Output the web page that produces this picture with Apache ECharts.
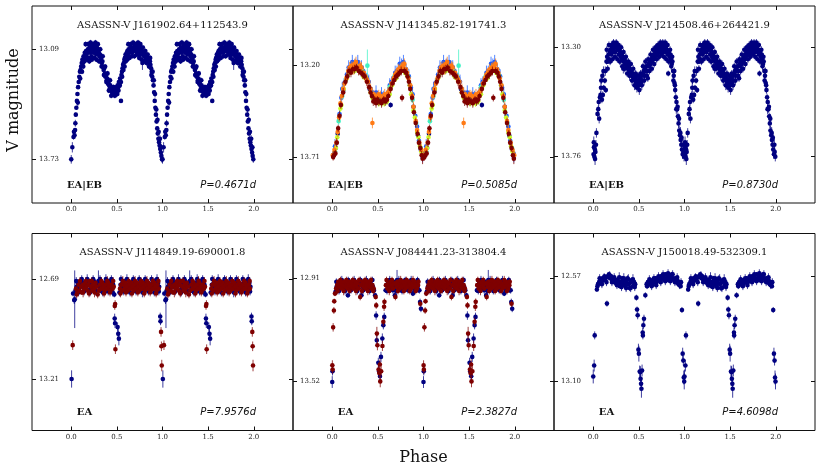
<!DOCTYPE html>
<html><head><meta charset="utf-8">
<script src="https://cdn.jsdelivr.net/npm/echarts@6/dist/echarts.min.js"></script>
<style>html,body{margin:0;padding:0;background:#fff}#c{width:822px;height:472px}</style>
</head><body><div id="c"></div>
<script>
// ---------- labels ----------
const starNames = ['ASASSN-V J161902.64+112543.9','ASASSN-V J141345.82-191741.3','ASASSN-V J214508.46+264421.9',
                   'ASASSN-V J114849.19-690001.8','ASASSN-V J084441.23-313804.4','ASASSN-V J150018.49-532309.1'];
const varTypes = ['EA|EB','EA|EB','EA|EB','EA','EA','EA'];
const periods = ['P=0.4671d','P=0.5085d','P=0.8730d','P=7.9576d','P=2.3827d','P=4.6098d'];
const yTickValues = [[13.09,13.73],[13.20,13.71],[13.30,13.76],[12.69,13.21],[12.91,13.52],[12.57,13.10]];
const yRanges = [[12.838,13.984],[12.867,13.967],[13.126,13.955],[12.453,13.478],[12.644,13.811],[12.355,13.347]];
const xTickValues = [0,0.5,1,1.5,2];
const xRange = [-0.43,2.43];

// ---------- data: [phase, magnitude, error] ----------
const p1_navy = [
[0.000,13.73,0.025],[0.025,13.60,0.015],[0.030,13.57,0.015],[0.036,13.59,0.012],[0.042,13.56,0.012],[0.050,13.47,0.012],[0.056,13.43,0.012],[0.062,13.39,0.01],[0.068,13.35,0.01],[0.075,13.31,0.01],[0.082,13.28,0.01],[0.088,13.25,0.01],[0.095,13.22,0.01],[0.102,13.21,0.01],[0.108,13.19,0.01],[0.115,13.17,0.01],[0.122,13.15,0.012],[0.128,13.17,0.012],[0.135,13.13,0.01],[0.142,13.14,0.01],[0.148,13.11,0.01],[0.155,13.13,0.01],[0.162,13.10,0.01],[0.168,13.12,0.01],[0.175,13.11,0.012],[0.182,13.09,0.01],[0.188,13.14,0.01],[0.195,13.10,0.01],[0.202,13.08,0.01],[0.208,13.11,0.01],[0.215,13.09,0.012],[0.222,13.13,0.01],[0.228,13.07,0.01],[0.235,13.10,0.01],[0.242,13.08,0.01],[0.248,13.11,0.01],[0.255,13.09,0.01],[0.262,13.07,0.01],[0.268,13.10,0.012],[0.275,13.12,0.01],[0.282,13.08,0.01],[0.288,13.10,0.01],[0.295,13.09,0.01],[0.302,13.11,0.01],[0.308,13.13,0.01],[0.315,13.12,0.01],[0.322,13.15,0.01],[0.328,13.14,0.01],[0.335,13.17,0.01],[0.342,13.16,0.012],[0.348,13.19,0.01],[0.355,13.21,0.01],[0.362,13.20,0.01],[0.368,13.23,0.01],[0.375,13.25,0.01],[0.382,13.24,0.01],[0.388,13.27,0.012],[0.395,13.26,0.01],[0.402,13.29,0.01],[0.408,13.28,0.012],[0.415,13.30,0.01],[0.422,13.32,0.01],[0.428,13.30,0.01],[0.435,13.33,0.012],[0.442,13.31,0.01],[0.448,13.34,0.01],[0.455,13.32,0.01],[0.462,13.35,0.012],[0.468,13.33,0.01],[0.475,13.34,0.01],[0.482,13.32,0.01],[0.488,13.34,0.012],[0.495,13.31,0.01],[0.502,13.33,0.01],[0.508,13.30,0.01],[0.515,13.31,0.012],[0.522,13.28,0.01],[0.528,13.29,0.01],[0.535,13.26,0.01],[0.545,13.39,0.01],[0.550,13.24,0.01],[0.556,13.22,0.01],[0.562,13.20,0.01],[0.568,13.18,0.01],[0.575,13.17,0.01],[0.582,13.15,0.01],[0.588,13.14,0.01],[0.595,13.12,0.01],[0.602,13.13,0.01],[0.608,13.11,0.01],[0.615,13.10,0.01],[0.622,13.12,0.01],[0.628,13.09,0.01],[0.635,13.11,0.01],[0.642,13.10,0.01],[0.648,13.08,0.01],[0.655,13.10,0.01],[0.662,13.09,0.01],[0.668,13.11,0.01],[0.675,13.08,0.01],[0.682,13.10,0.01],[0.688,13.09,0.01],[0.695,13.07,0.01],[0.702,13.10,0.01],[0.708,13.08,0.01],[0.715,13.09,0.01],[0.722,13.07,0.012],[0.728,13.10,0.01],[0.735,13.12,0.01],[0.742,13.08,0.01],[0.748,13.07,0.01],[0.755,13.11,0.01],[0.762,13.09,0.01],[0.768,13.12,0.01],[0.775,13.10,0.01],[0.780,13.17,0.04],[0.788,13.12,0.01],[0.795,13.11,0.01],[0.802,13.13,0.01],[0.808,13.12,0.01],[0.815,13.14,0.01],[0.822,13.13,0.01],[0.828,13.15,0.01],[0.835,13.14,0.01],[0.842,13.16,0.01],[0.848,13.15,0.01],[0.855,13.17,0.01],[0.862,13.16,0.01],[0.868,13.18,0.01],[0.875,13.20,0.01],[0.882,13.22,0.01],[0.888,13.25,0.01],[0.895,13.27,0.01],[0.902,13.30,0.012],[0.908,13.34,0.012],[0.915,13.39,0.012],[0.922,13.43,0.012],[0.928,13.47,0.012],[0.935,13.51,0.012],[0.942,13.55,0.012],[0.948,13.58,0.015],[0.955,13.61,0.015],[0.962,13.63,0.015],[0.968,13.65,0.015],[0.975,13.67,0.015],[0.982,13.69,0.015],[0.988,13.71,0.015],[0.995,13.73,0.02]
];
const p1_navy_b = [
[0.012,13.66,0.03],[0.045,13.52,0.02],[0.072,13.40,0.02],[0.098,13.26,0.015],[0.118,13.22,0.015],[0.132,13.19,0.015],[0.145,13.16,0.015],[0.158,13.06,0.015],[0.172,13.15,0.015],[0.185,13.06,0.015],[0.198,13.16,0.015],[0.212,13.05,0.015],[0.225,13.15,0.015],[0.238,13.06,0.015],[0.252,13.14,0.015],[0.265,13.05,0.015],[0.278,13.15,0.015],[0.292,13.06,0.015],[0.305,13.16,0.015],[0.318,13.09,0.015],[0.332,13.19,0.015],[0.345,13.13,0.015],[0.358,13.24,0.015],[0.372,13.19,0.015],[0.385,13.28,0.015],[0.398,13.23,0.015],[0.412,13.33,0.015],[0.425,13.27,0.015],[0.438,13.36,0.015],[0.452,13.35,0.015],[0.465,13.31,0.015],[0.478,13.36,0.015],[0.492,13.35,0.015],[0.505,13.35,0.015],[0.518,13.33,0.015],[0.532,13.30,0.015],[0.545,13.28,0.015],[0.558,13.25,0.015],[0.572,13.21,0.015],[0.585,13.19,0.015],[0.598,13.16,0.015],[0.612,13.15,0.015],[0.625,13.06,0.015],[0.638,13.14,0.015],[0.652,13.06,0.015],[0.665,13.13,0.015],[0.678,13.05,0.015],[0.692,13.13,0.015],[0.705,13.06,0.015],[0.718,13.12,0.015],[0.732,13.05,0.015],[0.745,13.14,0.015],[0.758,13.06,0.015],[0.772,13.15,0.015],[0.785,13.08,0.015],[0.798,13.16,0.015],[0.812,13.10,0.015],[0.825,13.17,0.015],[0.838,13.12,0.015],[0.852,13.19,0.015],[0.865,13.14,0.015],[0.878,13.24,0.015],[0.892,13.22,0.015],[0.905,13.27,0.015],[0.918,13.35,0.02],[0.932,13.44,0.02],[0.945,13.50,0.02],[0.958,13.57,0.02],[0.972,13.61,0.02],[0.985,13.66,0.02]
];

const p2_navy = [[0.01,13.70,0.02],[0.06,13.58,0.02],[0.12,13.34,0.02],[0.17,13.25,0.02],[0.23,13.22,0.02],[0.29,13.21,0.02],[0.35,13.25,0.02],[0.41,13.33,0.02],[0.47,13.38,0.02],[0.53,13.39,0.02],[0.585,13.40,0.02],[0.64,13.42,0.015],[0.69,13.27,0.02],[0.73,13.23,0.02],[0.79,13.22,0.02],[0.85,13.31,0.02],[0.89,13.43,0.02],[0.94,13.59,0.02],[0.985,13.69,0.02]];
const p2_blue = [[0.02,13.69,0.03],[0.04,13.66,0.03],[0.08,13.47,0.04],[0.10,13.38,0.03],[0.13,13.30,0.03],[0.16,13.25,0.03],[0.20,13.21,0.03],[0.25,13.19,0.03],[0.30,13.20,0.03],[0.34,13.23,0.03],[0.38,13.27,0.03],[0.44,13.35,0.03],[0.50,13.37,0.03],[0.56,13.37,0.03],[0.61,13.35,0.03],[0.65,13.29,0.03],[0.71,13.23,0.03],[0.76,13.19,0.03],[0.81,13.22,0.03],[0.86,13.32,0.03],[0.91,13.48,0.03],[0.95,13.62,0.03],[0.99,13.71,0.03],
 [0.03,13.65,0.04],[0.11,13.33,0.04],[0.18,13.21,0.04],[0.22,13.18,0.04],[0.28,13.18,0.04],[0.32,13.21,0.04],[0.40,13.29,0.04],[0.48,13.35,0.04],[0.54,13.36,0.04],[0.63,13.31,0.04],[0.69,13.24,0.04],[0.74,13.19,0.04],[0.78,13.18,0.04],[0.84,13.26,0.04],[0.88,13.36,0.04],[0.93,13.54,0.04],[0.97,13.67,0.04]];
const p2_cyan = [[0.03,13.68,0.02],[0.07,13.51,0.02],[0.11,13.37,0.02],[0.15,13.28,0.02],[0.21,13.22,0.02],[0.27,13.21,0.02],[0.33,13.23,0.02],[0.385,13.20,0.09],[0.46,13.37,0.02],[0.52,13.38,0.02],[0.58,13.38,0.02],[0.63,13.32,0.02],[0.68,13.26,0.02],[0.75,13.21,0.02],[0.83,13.26,0.02],[0.88,13.39,0.02],[0.92,13.52,0.02],[0.97,13.66,0.02]];
const p2_lime = [[0.015,13.70,0.02],[0.055,13.60,0.02],[0.09,13.44,0.02],[0.125,13.33,0.02],[0.19,13.24,0.02],[0.26,13.22,0.02],[0.31,13.23,0.02],[0.37,13.27,0.02],[0.42,13.35,0.02],[0.48,13.40,0.02],[0.545,13.41,0.02],[0.60,13.40,0.02],[0.655,13.31,0.02],[0.72,13.25,0.02],[0.78,13.23,0.02],[0.82,13.25,0.02],[0.865,13.36,0.02],[0.905,13.49,0.02],[0.945,13.60,0.02],[0.975,13.68,0.02],
 [0.04,13.66,0.02],[0.10,13.42,0.02],[0.16,13.27,0.02],[0.24,13.23,0.02],[0.34,13.26,0.02],[0.44,13.38,0.02],[0.51,13.41,0.02],[0.57,13.41,0.02],[0.63,13.36,0.02],[0.70,13.27,0.02],[0.80,13.24,0.02],[0.85,13.31,0.02],[0.89,13.45,0.02],[0.93,13.57,0.02],[0.96,13.65,0.02]];
const p2_orange = [[0.005,13.70,0.025],[0.045,13.63,0.025],[0.075,13.49,0.025],[0.105,13.37,0.025],[0.135,13.30,0.025],[0.175,13.23,0.025],[0.215,13.20,0.025],[0.245,13.19,0.025],[0.275,13.21,0.025],[0.305,13.20,0.025],[0.345,13.24,0.025],[0.395,13.29,0.025],[0.44,13.52,0.03],[0.455,13.36,0.025],[0.49,13.37,0.025],[0.51,13.36,0.025],[0.555,13.38,0.025],[0.595,13.37,0.025],[0.625,13.34,0.025],[0.675,13.27,0.025],[0.705,13.24,0.025],[0.745,13.21,0.025],[0.775,13.20,0.025],[0.805,13.22,0.025],[0.835,13.27,0.025],[0.875,13.37,0.025],[0.915,13.51,0.025],[0.955,13.63,0.025],[0.995,13.70,0.025],
 [0.025,13.67,0.03],[0.06,13.57,0.03],[0.09,13.41,0.03],[0.12,13.33,0.03],[0.155,13.27,0.03],[0.19,13.21,0.03],[0.23,13.22,0.03],[0.26,13.18,0.03],[0.29,13.22,0.03],[0.32,13.21,0.03],[0.36,13.26,0.03],[0.38,13.28,0.03],[0.42,13.33,0.03],[0.47,13.38,0.03],[0.53,13.37,0.03],[0.575,13.36,0.03],[0.61,13.35,0.03],[0.65,13.30,0.03],[0.69,13.25,0.03],[0.725,13.22,0.03],[0.76,13.21,0.03],[0.79,13.19,0.03],[0.82,13.24,0.03],[0.855,13.31,0.03],[0.89,13.43,0.03],[0.93,13.56,0.03],[0.975,13.67,0.03]];
const p2_red = [[0.01,13.71,0.02],[0.035,13.69,0.02],[0.065,13.55,0.02],[0.095,13.42,0.02],[0.145,13.29,0.02],[0.185,13.23,0.02],[0.225,13.22,0.02],[0.265,13.21,0.02],[0.315,13.24,0.02],[0.355,13.26,0.02],[0.405,13.32,0.02],[0.435,13.37,0.02],[0.465,13.39,0.02],[0.495,13.39,0.02],[0.525,13.40,0.02],[0.565,13.39,0.02],[0.615,13.37,0.02],[0.66,13.30,0.02],[0.70,13.26,0.02],[0.74,13.24,0.02],[0.765,13.38,0.02],[0.79,13.23,0.02],[0.825,13.26,0.02],[0.855,13.33,0.02],[0.895,13.46,0.02],[0.935,13.58,0.02],[0.965,13.66,0.02],[0.99,13.72,0.03],
 [0.02,13.70,0.025],[0.05,13.63,0.025],[0.08,13.48,0.025],[0.12,13.35,0.025],[0.165,13.26,0.025],[0.205,13.24,0.025],[0.245,13.22,0.025],[0.29,13.23,0.025],[0.335,13.25,0.025],[0.38,13.29,0.025],[0.42,13.35,0.025],[0.45,13.40,0.025],[0.48,13.41,0.025],[0.51,13.40,0.025],[0.54,13.41,0.025],[0.58,13.40,0.025],[0.60,13.39,0.025],[0.64,13.33,0.025],[0.68,13.28,0.025],[0.72,13.25,0.025],[0.755,13.23,0.025],[0.81,13.24,0.025],[0.84,13.29,0.025],[0.875,13.38,0.025],[0.915,13.52,0.025],[0.95,13.63,0.025],[0.98,13.70,0.025]];

const p3_navy = [
[0.003,13.75,0.02],[0.008,13.72,0.02],[0.012,13.76,0.02],[0.018,13.73,0.02],[0.024,13.74,0.02],[0.030,13.71,0.02],[0.047,13.58,0.015],[0.055,13.56,0.015],[0.065,13.60,0.02],[0.073,13.51,0.015],[0.080,13.50,0.015],[0.088,13.44,0.015],[0.095,13.52,0.015],[0.105,13.50,0.015],[0.115,13.47,0.012],[0.127,13.44,0.012],[0.138,13.48,0.012],[0.145,13.36,0.012],[0.152,13.34,0.01],[0.160,13.36,0.01],[0.168,13.33,0.01],[0.175,13.35,0.01],[0.182,13.32,0.01],[0.190,13.31,0.01],[0.198,13.33,0.01],[0.205,13.30,0.01],[0.212,13.32,0.01],[0.220,13.31,0.01],[0.228,13.29,0.01],[0.235,13.30,0.01],[0.242,13.32,0.01],[0.250,13.30,0.01],[0.258,13.29,0.01],[0.265,13.31,0.01],[0.272,13.30,0.01],[0.280,13.33,0.01],[0.288,13.31,0.01],[0.295,13.32,0.01],[0.302,13.34,0.01],[0.310,13.33,0.01],[0.318,13.35,0.01],[0.325,13.34,0.015],[0.330,13.39,0.02],[0.335,13.36,0.01],[0.342,13.35,0.01],[0.350,13.37,0.01],[0.358,13.36,0.01],[0.365,13.38,0.01],[0.372,13.37,0.01],[0.380,13.39,0.01],[0.388,13.38,0.01],[0.395,13.40,0.01],[0.402,13.39,0.012],[0.410,13.41,0.01],[0.418,13.40,0.012],[0.425,13.42,0.012],[0.432,13.41,0.012],[0.440,13.43,0.012],[0.448,13.42,0.012],[0.455,13.44,0.012],[0.462,13.43,0.015],[0.470,13.45,0.012],[0.478,13.44,0.012],[0.485,13.46,0.015],[0.492,13.44,0.012],[0.500,13.46,0.015],[0.508,13.45,0.012],[0.515,13.43,0.012],[0.522,13.45,0.015],[0.530,13.42,0.012],[0.538,13.44,0.012],[0.545,13.41,0.012],[0.552,13.40,0.012],[0.560,13.42,0.015],[0.568,13.39,0.012],[0.575,13.40,0.012],[0.582,13.38,0.012],[0.590,13.40,0.012],[0.598,13.43,0.015],[0.605,13.37,0.012],[0.612,13.38,0.012],[0.620,13.36,0.01],[0.628,13.37,0.01],[0.635,13.35,0.01],[0.642,13.36,0.01],[0.650,13.34,0.01],[0.658,13.35,0.01],[0.665,13.33,0.01],[0.672,13.34,0.01],[0.680,13.32,0.01],[0.688,13.33,0.01],[0.695,13.31,0.01],[0.702,13.33,0.01],[0.710,13.31,0.01],[0.718,13.32,0.01],[0.725,13.30,0.01],[0.732,13.32,0.01],[0.740,13.31,0.01],[0.748,13.29,0.01],[0.755,13.31,0.01],[0.762,13.30,0.01],[0.770,13.32,0.01],[0.778,13.29,0.01],[0.785,13.31,0.01],[0.792,13.30,0.01],[0.800,13.32,0.01],[0.808,13.31,0.01],[0.815,13.33,0.01],[0.822,13.41,0.012],[0.830,13.32,0.01],[0.838,13.34,0.01],[0.845,13.33,0.01],[0.852,13.35,0.01],[0.860,13.37,0.012],[0.868,13.36,0.012],[0.875,13.40,0.012],[0.882,13.42,0.012],[0.890,13.45,0.012],[0.898,13.48,0.015],[0.905,13.51,0.015],[0.912,13.53,0.015],[0.920,13.56,0.015],[0.928,13.59,0.015],[0.935,13.62,0.02],[0.942,13.65,0.02],[0.950,13.67,0.02],[0.958,13.69,0.02],[0.965,13.71,0.02],[0.972,13.73,0.02],[0.980,13.75,0.02],[0.988,13.74,0.02],[0.995,13.76,0.02]
];
const p3_navy_b = [
[0.006,13.70,0.025],[0.020,13.77,0.025],[0.035,13.66,0.02],[0.060,13.53,0.02],[0.085,13.47,0.02],[0.100,13.42,0.02],[0.112,13.40,0.02],[0.132,13.40,0.02],[0.148,13.31,0.015],[0.158,13.39,0.015],[0.172,13.29,0.015],[0.185,13.36,0.015],[0.198,13.29,0.015],[0.210,13.35,0.015],[0.222,13.28,0.015],[0.238,13.34,0.015],[0.252,13.28,0.015],[0.265,13.35,0.015],[0.278,13.29,0.015],[0.292,13.36,0.015],[0.305,13.30,0.015],[0.318,13.38,0.015],[0.332,13.32,0.015],[0.345,13.39,0.015],[0.358,13.34,0.015],[0.372,13.41,0.015],[0.385,13.36,0.015],[0.398,13.42,0.02],[0.412,13.37,0.015],[0.425,13.44,0.02],[0.438,13.39,0.015],[0.452,13.46,0.02],[0.465,13.41,0.015],[0.478,13.47,0.02],[0.490,13.42,0.015],[0.505,13.48,0.02],[0.518,13.41,0.015],[0.532,13.46,0.02],[0.545,13.38,0.015],[0.558,13.44,0.02],[0.572,13.36,0.015],[0.588,13.42,0.02],[0.602,13.35,0.015],[0.615,13.40,0.015],[0.628,13.33,0.015],[0.642,13.39,0.015],[0.655,13.31,0.015],[0.668,13.37,0.015],[0.682,13.30,0.015],[0.695,13.35,0.015],[0.708,13.29,0.015],[0.722,13.34,0.015],[0.735,13.28,0.015],[0.748,13.33,0.015],[0.762,13.28,0.015],[0.775,13.34,0.015],[0.788,13.28,0.015],[0.802,13.35,0.015],[0.815,13.29,0.015],[0.828,13.36,0.015],[0.842,13.31,0.015],[0.855,13.38,0.015],[0.865,13.34,0.015],[0.878,13.44,0.02],[0.888,13.40,0.015],[0.895,13.46,0.02],[0.910,13.56,0.02],[0.925,13.55,0.02],[0.940,13.60,0.02],[0.955,13.66,0.025],[0.968,13.68,0.025],[0.985,13.71,0.025]
];

const p4_navy = [
[0.004,13.21,0.045],[0.020,12.765,0.015],[0.033,12.80,0.02],[0.038,12.795,0.15],[0.046,12.75,0.015],[0.060,12.73,0.012],[0.072,12.71,0.015],[0.085,12.74,0.012],[0.098,12.72,0.012],[0.110,12.70,0.015],[0.122,12.73,0.012],[0.135,12.71,0.012],[0.148,12.74,0.012],[0.160,12.72,0.015],[0.172,12.70,0.012],[0.185,12.75,0.012],[0.198,12.72,0.012],[0.210,12.74,0.015],[0.222,12.71,0.012],[0.235,12.73,0.012],[0.248,12.70,0.012],[0.260,12.72,0.015],[0.272,12.75,0.012],[0.285,12.71,0.012],[0.298,12.70,0.055],[0.310,12.73,0.012],[0.322,12.75,0.012],[0.335,12.72,0.015],[0.348,12.74,0.012],[0.360,12.71,0.012],[0.372,12.73,0.012],[0.385,12.75,0.015],[0.398,12.72,0.012],[0.410,12.70,0.012],[0.422,12.73,0.012],[0.435,12.71,0.015],[0.448,12.74,0.012],[0.460,12.72,0.012],[0.472,12.77,0.015],[0.476,12.895,0.025],[0.480,12.92,0.025],[0.508,12.94,0.025],[0.515,12.975,0.03],[0.522,13.00,0.035],[0.528,12.76,0.02],[0.540,12.72,0.012],[0.552,12.74,0.012],[0.565,12.71,0.015],[0.578,12.73,0.012],[0.590,12.70,0.012],[0.602,12.72,0.012],[0.615,12.75,0.015],[0.628,12.72,0.012],[0.640,12.74,0.012],[0.652,12.71,0.012],[0.665,12.73,0.015],[0.678,12.70,0.012],[0.690,12.72,0.012],[0.702,12.74,0.012],[0.715,12.71,0.015],[0.728,12.73,0.012],[0.740,12.75,0.012],[0.752,12.72,0.012],[0.765,12.70,0.015],[0.778,12.73,0.012],[0.790,12.71,0.012],[0.802,12.74,0.012],[0.815,12.72,0.015],[0.828,12.70,0.012],[0.840,12.73,0.012],[0.852,12.75,0.012],[0.865,12.72,0.015],[0.878,12.74,0.012],[0.890,12.71,0.012],[0.902,12.73,0.012],[0.915,12.70,0.015],[0.928,12.72,0.012],[0.940,12.74,0.012],[0.952,12.71,0.012],[0.964,12.73,0.015],[0.975,12.885,0.02],[0.978,12.91,0.02],
 [0.055,12.70,0.02],[0.08,12.76,0.02],[0.115,12.69,0.02],[0.14,12.755,0.02],[0.175,12.69,0.025],[0.205,12.76,0.02],[0.24,12.69,0.02],[0.265,12.755,0.02],[0.315,12.69,0.02],[0.345,12.76,0.02],[0.38,12.69,0.025],[0.405,12.755,0.02],[0.44,12.69,0.02],[0.455,12.76,0.02],[0.545,12.69,0.02],[0.575,12.755,0.02],[0.61,12.69,0.025],[0.645,12.76,0.02],[0.68,12.69,0.02],[0.71,12.755,0.02],[0.745,12.69,0.02],[0.78,12.76,0.025],[0.81,12.69,0.02],[0.845,12.755,0.02],[0.88,12.69,0.02],[0.91,12.76,0.02],[0.94,12.69,0.025],[0.96,12.755,0.02]
];
const p4_red = [
[0.016,13.034,0.025],[0.052,12.74,0.012],[0.066,12.76,0.012],[0.079,12.72,0.012],[0.092,12.75,0.015],[0.104,12.73,0.012],[0.116,12.76,0.012],[0.128,12.72,0.012],[0.141,12.74,0.015],[0.154,12.71,0.012],[0.166,12.73,0.012],[0.179,12.75,0.012],[0.191,12.72,0.015],[0.204,12.70,0.012],[0.216,12.73,0.012],[0.229,12.75,0.012],[0.241,12.72,0.015],[0.254,12.74,0.012],[0.266,12.71,0.012],[0.279,12.73,0.012],[0.304,12.75,0.015],[0.316,12.72,0.012],[0.329,12.74,0.012],[0.341,12.71,0.012],[0.354,12.73,0.015],[0.366,12.75,0.012],[0.379,12.72,0.012],[0.391,12.74,0.012],[0.404,12.71,0.015],[0.416,12.73,0.012],[0.429,12.75,0.012],[0.441,12.72,0.012],[0.454,12.74,0.015],[0.466,12.73,0.012],[0.477,12.83,0.02],[0.481,12.82,0.02],[0.484,13.055,0.025],[0.534,12.74,0.012],[0.546,12.72,0.012],[0.559,12.75,0.015],[0.571,12.72,0.012],[0.584,12.74,0.012],[0.596,12.71,0.012],[0.609,12.73,0.015],[0.621,12.75,0.012],[0.634,12.72,0.012],[0.646,12.74,0.012],[0.659,12.71,0.015],[0.671,12.73,0.012],[0.684,12.75,0.012],[0.696,12.72,0.012],[0.709,12.74,0.015],[0.721,12.71,0.012],[0.734,12.73,0.012],[0.746,12.75,0.012],[0.759,12.72,0.015],[0.771,12.74,0.012],[0.784,12.71,0.012],[0.796,12.73,0.012],[0.809,12.75,0.015],[0.821,12.72,0.012],[0.834,12.74,0.012],[0.846,12.71,0.012],[0.859,12.73,0.015],[0.871,12.75,0.012],[0.884,12.72,0.012],[0.896,12.74,0.012],[0.909,12.71,0.015],[0.921,12.73,0.012],[0.934,12.75,0.012],[0.946,12.72,0.012],[0.958,12.74,0.015],[0.984,12.965,0.025],[0.988,13.04,0.025],[0.992,13.14,0.03],
 [0.06,12.77,0.02],[0.095,12.70,0.02],[0.13,12.76,0.025],[0.16,12.70,0.02],[0.195,12.765,0.02],[0.225,12.70,0.02],[0.255,12.76,0.025],[0.29,12.77,0.02],[0.33,12.70,0.02],[0.36,12.765,0.02],[0.395,12.70,0.025],[0.425,12.76,0.02],[0.46,12.70,0.02],[0.54,12.765,0.02],[0.565,12.70,0.025],[0.60,12.76,0.02],[0.63,12.70,0.02],[0.665,12.765,0.02],[0.70,12.70,0.025],[0.73,12.76,0.02],[0.765,12.70,0.02],[0.80,12.765,0.02],[0.83,12.70,0.025],[0.865,12.76,0.02],[0.895,12.70,0.02],[0.93,12.765,0.02],[0.955,12.70,0.02]
];

const p5_navy = [
[0.000,13.524,0.035],[0.003,13.46,0.025],[0.036,12.99,0.015],[0.048,12.96,0.012],[0.060,12.94,0.012],[0.072,12.97,0.012],[0.085,12.95,0.012],[0.098,12.93,0.015],[0.110,12.96,0.012],[0.122,12.94,0.012],[0.135,12.97,0.012],[0.148,12.95,0.015],[0.160,12.93,0.012],[0.172,13.01,0.015],[0.185,12.96,0.012],[0.198,12.94,0.012],[0.210,12.97,0.015],[0.222,12.95,0.012],[0.235,12.93,0.012],[0.248,12.96,0.012],[0.260,12.94,0.015],[0.272,12.97,0.012],[0.285,12.95,0.012],[0.298,12.93,0.012],[0.320,13.01,0.015],[0.332,12.96,0.012],[0.345,12.94,0.012],[0.358,12.97,0.015],[0.370,12.95,0.012],[0.382,12.93,0.012],[0.395,12.96,0.012],[0.408,12.94,0.015],[0.420,12.97,0.012],[0.432,12.95,0.012],[0.445,12.96,0.015],[0.458,12.98,0.012],[0.470,13.01,0.015],[0.481,13.13,0.025],[0.488,13.276,0.03],[0.505,13.41,0.03],[0.512,13.46,0.03],[0.523,13.49,0.035],[0.534,13.375,0.03],[0.549,13.266,0.03],[0.560,13.187,0.025],[0.570,13.138,0.025],[0.585,12.98,0.015],[0.598,12.95,0.012],[0.610,12.93,0.012],[0.622,12.96,0.015],[0.635,12.94,0.012],[0.648,12.97,0.012],[0.660,12.95,0.012],[0.672,12.93,0.015],[0.686,13.01,0.015],[0.698,12.96,0.012],[0.710,12.92,0.06],[0.722,12.95,0.012],[0.735,12.97,0.012],[0.748,12.94,0.015],[0.760,12.96,0.012],[0.772,12.93,0.012],[0.785,12.95,0.012],[0.798,12.97,0.015],[0.810,12.94,0.012],[0.822,12.96,0.012],[0.835,12.93,0.012],[0.848,12.95,0.015],[0.860,12.97,0.012],[0.872,12.94,0.012],[0.884,13.00,0.015],[0.896,12.95,0.012],[0.908,12.97,0.015],[0.920,12.94,0.012],[0.932,12.96,0.012],[0.944,12.98,0.015],[0.962,13.05,0.02],[0.972,13.09,0.02],
 [0.045,12.93,0.02],[0.075,12.985,0.02],[0.105,12.92,0.025],[0.14,12.985,0.02],[0.175,12.92,0.02],[0.205,12.98,0.02],[0.24,12.92,0.025],[0.275,12.985,0.02],[0.31,12.92,0.02],[0.34,12.98,0.02],[0.375,12.92,0.025],[0.41,12.985,0.02],[0.44,12.92,0.02],[0.60,12.985,0.02],[0.63,12.92,0.025],[0.665,12.98,0.02],[0.70,12.985,0.02],[0.73,12.92,0.025],[0.765,12.985,0.02],[0.80,12.92,0.02],[0.83,12.98,0.02],[0.865,12.92,0.025],[0.90,12.985,0.02],[0.935,12.92,0.02],[0.955,12.98,0.02]
];
const p5_red = [
[0.001,13.425,0.03],[0.004,13.45,0.025],[0.010,13.20,0.025],[0.018,13.10,0.02],[0.022,13.045,0.015],[0.030,13.00,0.015],[0.042,12.97,0.012],[0.054,12.95,0.012],[0.066,12.93,0.012],[0.079,12.96,0.015],[0.091,12.94,0.012],[0.104,12.97,0.012],[0.116,12.95,0.012],[0.129,12.93,0.015],[0.141,12.96,0.012],[0.154,12.94,0.012],[0.166,12.97,0.012],[0.179,12.95,0.015],[0.191,12.93,0.012],[0.204,12.96,0.012],[0.216,12.94,0.012],[0.229,12.97,0.015],[0.241,12.95,0.012],[0.254,12.93,0.012],[0.266,12.96,0.012],[0.279,12.94,0.015],[0.291,12.97,0.012],[0.306,13.02,0.02],[0.316,12.95,0.012],[0.329,12.93,0.015],[0.341,12.96,0.012],[0.354,12.94,0.012],[0.366,12.97,0.012],[0.379,12.95,0.015],[0.391,12.93,0.012],[0.404,12.96,0.012],[0.416,12.94,0.012],[0.429,12.97,0.015],[0.441,12.95,0.012],[0.454,12.97,0.012],[0.476,13.02,0.015],[0.482,13.07,0.02],[0.489,13.237,0.04],[0.495,13.306,0.03],[0.508,13.45,0.03],[0.515,13.47,0.03],[0.522,13.42,0.03],[0.526,13.52,0.035],[0.536,13.46,0.03],[0.550,13.31,0.03],[0.560,13.167,0.025],[0.568,13.078,0.025],[0.572,13.049,0.02],[0.588,12.95,0.012],[0.604,12.97,0.012],[0.616,12.94,0.015],[0.629,12.96,0.012],[0.641,12.93,0.012],[0.654,12.95,0.012],[0.666,12.97,0.015],[0.679,12.94,0.012],[0.692,13.02,0.02],[0.704,12.96,0.012],[0.716,12.93,0.015],[0.729,12.95,0.012],[0.741,12.97,0.012],[0.754,12.94,0.012],[0.766,12.96,0.015],[0.779,12.93,0.012],[0.791,12.95,0.012],[0.804,12.97,0.012],[0.816,12.94,0.015],[0.829,12.96,0.012],[0.841,12.93,0.012],[0.854,12.95,0.012],[0.866,12.97,0.015],[0.879,12.94,0.012],[0.891,12.96,0.012],[0.904,12.93,0.012],[0.916,12.95,0.015],[0.929,12.97,0.012],[0.941,12.95,0.012],[0.965,13.06,0.02],
 [0.06,12.985,0.02],[0.09,12.92,0.02],[0.125,12.985,0.025],[0.155,12.92,0.02],[0.19,12.985,0.02],[0.225,12.92,0.02],[0.26,12.985,0.025],[0.295,12.92,0.02],[0.325,12.985,0.02],[0.36,12.92,0.02],[0.39,12.985,0.025],[0.425,12.92,0.02],[0.45,12.985,0.02],[0.595,12.92,0.02],[0.625,12.985,0.025],[0.655,12.92,0.02],[0.69,12.94,0.02],[0.72,12.985,0.02],[0.75,12.92,0.025],[0.785,12.985,0.02],[0.815,12.92,0.02],[0.85,12.985,0.02],[0.885,12.92,0.025],[0.915,12.985,0.02],[0.945,12.93,0.02]
];

const p6_navy = [
[0.000,13.075,0.035],[0.010,13.02,0.03],[0.016,12.868,0.02],[0.040,12.637,0.012],[0.052,12.61,0.01],[0.064,12.60,0.01],[0.076,12.59,0.01],[0.088,12.60,0.01],[0.100,12.58,0.01],[0.112,12.59,0.01],[0.124,12.57,0.01],[0.136,12.58,0.012],[0.150,12.708,0.015],[0.160,12.57,0.01],[0.172,12.56,0.012],[0.184,12.58,0.01],[0.196,12.57,0.01],[0.208,12.59,0.01],[0.220,12.58,0.01],[0.232,12.60,0.012],[0.244,12.59,0.01],[0.256,12.61,0.01],[0.268,12.59,0.01],[0.280,12.60,0.015],[0.292,12.62,0.01],[0.304,12.60,0.01],[0.316,12.58,0.012],[0.328,12.61,0.01],[0.340,12.59,0.015],[0.352,12.62,0.01],[0.364,12.60,0.01],[0.376,12.58,0.015],[0.388,12.61,0.01],[0.400,12.63,0.015],[0.412,12.60,0.01],[0.424,12.59,0.015],[0.436,12.62,0.01],[0.448,12.60,0.01],[0.460,12.61,0.012],[0.473,12.678,0.015],[0.480,12.738,0.015],[0.487,12.767,0.02],[0.495,12.94,0.03],[0.500,12.96,0.04],[0.509,13.05,0.03],[0.516,13.053,0.03],[0.519,13.087,0.03],[0.524,13.112,0.035],[0.528,13.137,0.045],[0.535,13.045,0.03],[0.542,12.854,0.025],[0.544,12.868,0.02],[0.549,12.817,0.02],[0.556,12.784,0.02],[0.571,12.666,0.015],[0.585,12.61,0.01],[0.598,12.60,0.01],[0.610,12.61,0.01],[0.622,12.59,0.012],[0.634,12.60,0.01],[0.646,12.61,0.01],[0.658,12.59,0.01],[0.670,12.60,0.012],[0.682,12.58,0.01],[0.694,12.60,0.01],[0.706,12.59,0.01],[0.718,12.58,0.012],[0.730,12.59,0.01],[0.742,12.57,0.01],[0.754,12.58,0.01],[0.766,12.57,0.012],[0.778,12.59,0.01],[0.790,12.56,0.01],[0.802,12.58,0.01],[0.814,12.57,0.012],[0.826,12.59,0.01],[0.838,12.57,0.01],[0.850,12.58,0.01],[0.862,12.56,0.012],[0.874,12.58,0.01],[0.886,12.59,0.01],[0.898,12.58,0.01],[0.910,12.60,0.012],[0.922,12.59,0.01],[0.934,12.61,0.01],[0.946,12.60,0.01],[0.958,12.62,0.012],[0.972,12.74,0.015],[0.980,12.96,0.03],[0.987,12.995,0.025],[0.992,13.08,0.035],[0.997,13.10,0.04],
 [0.046,12.62,0.015],[0.07,12.58,0.02],[0.095,12.61,0.02],[0.12,12.575,0.02],[0.145,12.60,0.02],[0.18,12.565,0.02],[0.205,12.60,0.02],[0.23,12.575,0.02],[0.26,12.615,0.02],[0.285,12.575,0.025],[0.31,12.625,0.02],[0.335,12.58,0.025],[0.36,12.63,0.02],[0.385,12.585,0.025],[0.41,12.63,0.02],[0.435,12.585,0.025],[0.455,12.625,0.02],[0.59,12.62,0.015],[0.615,12.585,0.02],[0.64,12.62,0.02],[0.665,12.58,0.02],[0.69,12.615,0.02],[0.715,12.57,0.02],[0.74,12.60,0.02],[0.765,12.56,0.02],[0.79,12.595,0.02],[0.82,12.555,0.02],[0.845,12.595,0.02],[0.87,12.56,0.02],[0.895,12.60,0.02],[0.92,12.575,0.02],[0.945,12.615,0.02],[0.962,12.60,0.02]
];

// ---------- styling ----------
const C = {navy:'#000080', blue:'#1a5cff', cyan:'#3ff2c4', lime:'#c6ff2a', orange:'#ff7a14', red:'#7f0000'};
const panels = [
  [[p1_navy,C.navy],[p1_navy_b,C.navy]],
  [[p2_navy,C.navy],[p2_blue,C.blue],[p2_cyan,C.cyan],[p2_lime,C.lime],[p2_orange,C.orange],[p2_red,C.red]],
  [[p3_navy,C.navy],[p3_navy_b,C.navy]],
  [[p4_navy,C.navy],[p4_red,C.red]],
  [[p5_navy,C.navy],[p5_red,C.red]],
  [[p6_navy,C.navy]]
];
const colLeft = [32, 293, 554], colW = 261;
const rowTop = [6, 233.5], rowH = 197;
const SERIF = 'DejaVu Serif';

const grids=[], xAxes=[], yAxes=[], series=[], graphics=[];
function errRender(color){
  return function(params, api){
    const x=api.value(0), y=api.value(1), e=api.value(2);
    const p=api.coord([x,y]), a=api.coord([x,y-e]), b=api.coord([x,y+e]);
    return {type:'group', children:[
      {type:'line', shape:{x1:a[0],y1:a[1],x2:b[0],y2:b[1]}, style:{stroke:color, lineWidth:1, opacity:0.75}},
      {type:'circle', shape:{cx:p[0],cy:p[1],r:2.3}, style:{fill:color}}
    ]};
  };
}
for(let i=0;i<6;i++){
  const c=i%3, r=Math.floor(i/3);
  const L=colLeft[c], T=rowTop[r];
  grids.push({left:L, top:T, width:colW, height:rowH, show:true, borderColor:'#111', borderWidth:1, backgroundColor:'transparent', containLabel:false});
  const tickStyle={show:true, inside:true, length:4, lineStyle:{color:'#111', width:1}};
  const noLine={show:false, onZero:false};
  xAxes.push({type:'value', gridIndex:i, position:'bottom', min:xRange[0], max:xRange[1],
    axisLine:noLine, splitLine:{show:false},
    axisTick:Object.assign({customValues:xTickValues}, tickStyle),
    axisLabel:{show:true, customValues:xTickValues, formatter:v=>Number(v).toFixed(1), fontFamily:SERIF, fontSize:7, color:'#222', margin:3}});
  xAxes.push({type:'value', gridIndex:i, position:'top', min:xRange[0], max:xRange[1],
    axisLine:noLine, splitLine:{show:false},
    axisTick:Object.assign({customValues:xTickValues}, tickStyle), axisLabel:{show:false}});
  const yt=yTickValues[i], yr=yRanges[i];
  yAxes.push({type:'value', gridIndex:i, position:'left', inverse:true, min:yr[0], max:yr[1],
    axisLine:noLine, splitLine:{show:false},
    axisTick:Object.assign({customValues:yt}, tickStyle),
    axisLabel:{show:true, inside:true, customValues:yt, formatter:v=>Number(v).toFixed(2), fontFamily:SERIF, fontSize:7, color:'#222', margin:7}});
  yAxes.push({type:'value', gridIndex:i, position:'right', inverse:true, min:yr[0], max:yr[1],
    axisLine:noLine, splitLine:{show:false},
    axisTick:Object.assign({customValues:yt}, tickStyle), axisLabel:{show:false}});
  panels[i].forEach(([arr,color])=>{
    const data=[];
    arr.forEach(d=>{ data.push([d[0],d[1],d[2]]); data.push([d[0]+1,d[1],d[2]]); });
    series.push({type:'custom', xAxisIndex:2*i, yAxisIndex:2*i, data, dimensions:['x','y','e'],
      encode:{x:0,y:1}, renderItem:errRender(color), clip:true, silent:true, animation:false});
  });
  graphics.push({type:'text', x:L+colW/2, y:T+19, style:{text:starNames[i], font:'10px "DejaVu Serif"', fill:'#111', textAlign:'center', textVerticalAlign:'middle', align:'center', verticalAlign:'middle'}});
  graphics.push({type:'text', x:L+52.5, y:T+179, style:{text:varTypes[i], font:'bold 10px "DejaVu Serif"', fill:'#111', textAlign:'center', textVerticalAlign:'middle', align:'center', verticalAlign:'middle'}});
  graphics.push({type:'text', x:L+colW-37, y:T+179, style:{text:periods[i], font:'italic 10px "DejaVu Sans"', fill:'#111', textAlign:'right', textVerticalAlign:'middle', align:'right', verticalAlign:'middle'}});
}
graphics.push({type:'text', x:14, y:100, rotation:Math.PI/2, style:{text:'V magnitude', font:'16px "DejaVu Serif"', fill:'#111', textAlign:'center', textVerticalAlign:'middle', align:'center', verticalAlign:'middle'}});
graphics.push({type:'text', x:423.5, y:458, style:{text:'Phase', font:'16px "DejaVu Serif"', fill:'#111', textAlign:'center', textVerticalAlign:'middle', align:'center', verticalAlign:'middle'}});

const chart=echarts.init(document.getElementById('c'), null, {renderer:'canvas'});
chart.setOption({animation:false, backgroundColor:'#fff', grid:grids, xAxis:xAxes, yAxis:yAxes, series, graphic:{elements:graphics}});
</script></body></html>
